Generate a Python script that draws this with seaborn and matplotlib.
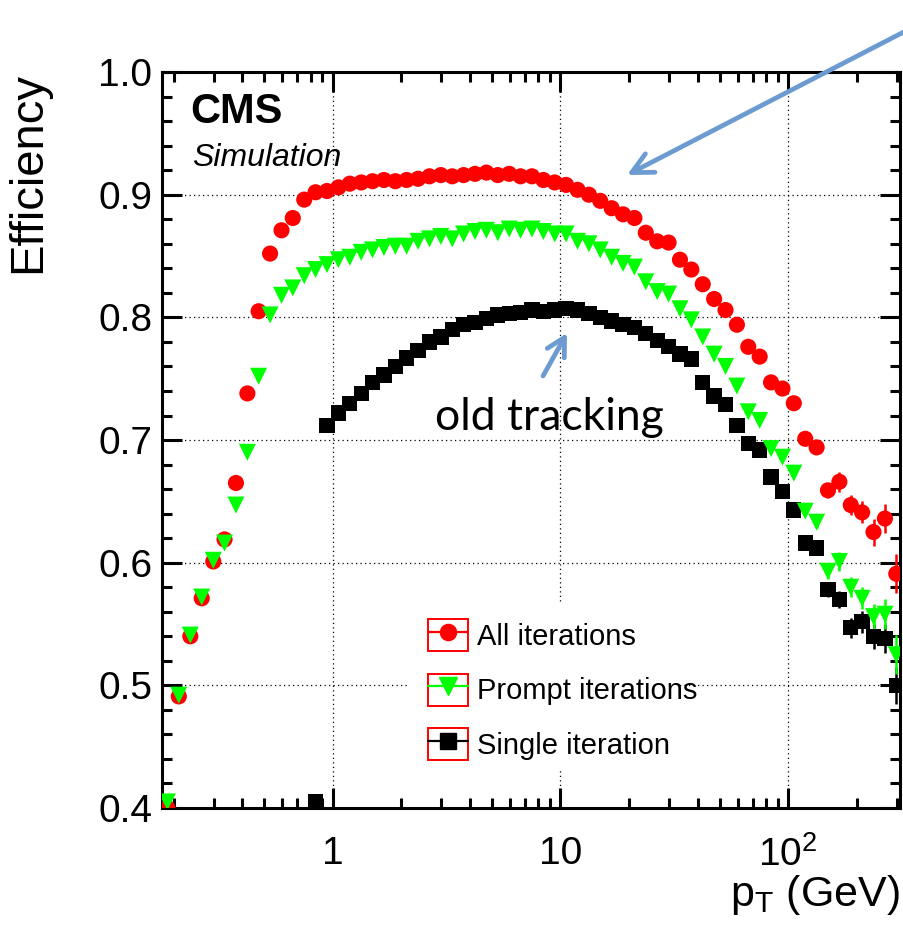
import numpy as np
import pandas as pd
import matplotlib
matplotlib.use("Agg")
import matplotlib.pyplot as plt
import seaborn as sns
from matplotlib.lines import Line2D
from matplotlib.patches import Rectangle
from matplotlib.legend_handler import HandlerLine2D
from matplotlib.ticker import LogLocator, NullFormatter, MultipleLocator

# %% data: tracking efficiency vs pT (20 log bins per decade)
pt_bins = [0.188, 0.211, 0.237, 0.266, 0.299, 0.335, 0.376, 0.422, 0.473, 0.531,
           0.596, 0.668, 0.750, 0.841, 0.944, 1.059, 1.189, 1.334, 1.496, 1.679,
           1.884, 2.113, 2.371, 2.661, 2.985, 3.350, 3.758, 4.217, 4.732, 5.309,
           5.957, 6.683, 7.499, 8.414, 9.441, 10.59, 11.89, 13.34, 14.96, 16.79,
           18.84, 21.13, 23.71, 26.61, 29.85, 33.50, 37.58, 42.17, 47.32, 53.09,
           59.57, 66.83, 74.99, 84.14, 94.41, 105.9, 118.9, 133.4, 149.6, 167.9,
           188.4, 211.3, 237.1, 266.1, 298.5]

eff_all = [0.400, 0.491, 0.540, 0.571, 0.601, 0.619, 0.665, 0.738, 0.805, 0.852,
           0.871, 0.881, 0.896, 0.902, 0.903, 0.906, 0.909, 0.910, 0.911, 0.912,
           0.911, 0.912, 0.913, 0.915, 0.916, 0.915, 0.916, 0.917, 0.918, 0.916,
           0.917, 0.915, 0.915, 0.912, 0.910, 0.908, 0.904, 0.900, 0.895, 0.889,
           0.884, 0.881, 0.869, 0.862, 0.861, 0.847, 0.839, 0.827, 0.815, 0.806,
           0.794, 0.776, 0.768, 0.747, 0.742, 0.730, 0.701, 0.694, 0.659, 0.666,
           0.647, 0.641, 0.625, 0.636, 0.591]

eff_prompt = [0.405, 0.492, 0.541, 0.572, 0.602, 0.616, 0.647, 0.690, 0.752, 0.802,
              0.818, 0.824, 0.834, 0.839, 0.843, 0.847, 0.849, 0.853, 0.855, 0.857,
              0.858, 0.858, 0.862, 0.864, 0.866, 0.864, 0.868, 0.870, 0.871, 0.869,
              0.872, 0.871, 0.872, 0.870, 0.868, 0.868, 0.862, 0.860, 0.855, 0.849,
              0.844, 0.841, 0.829, 0.821, 0.819, 0.807, 0.798, 0.784, 0.770, 0.760,
              0.744, 0.723, 0.716, 0.693, 0.686, 0.673, 0.642, 0.633, 0.593, 0.601,
              0.580, 0.571, 0.556, 0.558, 0.525]

eff_single = [np.nan] * 13 + [
              0.405, 0.712, 0.722, 0.730, 0.738, 0.747, 0.753,
              0.760, 0.767, 0.773, 0.780, 0.784, 0.790, 0.794, 0.796, 0.799, 0.802,
              0.803, 0.804, 0.806, 0.805, 0.806, 0.807, 0.806, 0.803, 0.800, 0.797,
              0.794, 0.792, 0.787, 0.781, 0.776, 0.770, 0.766, 0.747, 0.736, 0.729,
              0.712, 0.697, 0.692, 0.670, 0.658, 0.643, 0.616, 0.612, 0.578, 0.570,
              0.547, 0.552, 0.540, 0.538, 0.500]

# statistical errors only visible in the high-pT tail
tail_start = 56
err_all = [0.004, 0.005, 0.006, 0.008, 0.008, 0.009, 0.011, 0.012, 0.016]
err_prompt = [0.004, 0.005, 0.006, 0.008, 0.008, 0.009, 0.010, 0.012, 0.016]
err_single = [0.004, 0.005, 0.006, 0.007, 0.008, 0.009, 0.010, 0.012, 0.015]

series_names = ["All iterations", "Prompt iterations", "Single iteration"]
series_colors = {"All iterations": "#ff0000", "Prompt iterations": "#00ff00", "Single iteration": "#000000"}
series_markers = {"All iterations": "o", "Prompt iterations": "v", "Single iteration": "s"}
series_sizes = {"All iterations": 135, "Prompt iterations": 150, "Single iteration": 122}

# long format; draw order red -> black -> green (green ends up on top)
df = pd.concat([
    pd.DataFrame({"pt": pt_bins, "eff": eff_all, "series": "All iterations"}),
    pd.DataFrame({"pt": pt_bins, "eff": eff_single, "series": "Single iteration"}),
    pd.DataFrame({"pt": pt_bins, "eff": eff_prompt, "series": "Prompt iterations"}),
], ignore_index=True).dropna()

# %% style
sns.set_style("ticks")
plt.rcParams.update({
    "font.family": ["Liberation Sans", "DejaVu Sans"],
    "mathtext.fontset": "custom",
    "mathtext.rm": "Liberation Sans",
    "mathtext.it": "Liberation Sans:italic",
    "mathtext.bf": "Liberation Sans:bold",
    "text.color": "black",
    "axes.labelcolor": "black",
    "xtick.color": "black",
    "ytick.color": "black",
    "axes.edgecolor": "black",
})


class BoxedHandler(HandlerLine2D):
    # ROOT-style legend entry: line + marker inside a red box
    def create_artists(self, legend, orig_handle, xdescent, ydescent, width, height, fontsize, trans):
        arts = super().create_artists(legend, orig_handle, xdescent, ydescent, width, height, fontsize, trans)
        box = Rectangle((-xdescent, -ydescent), width, height, fill=False,
                        edgecolor="red", linewidth=1.4, transform=trans)
        return [box] + list(arts)


fig = plt.figure(figsize=(9.04, 9.26), dpi=100)
ax = fig.add_axes([0.1792, 0.1274, 0.8164, 0.7948])
ax.set_xscale("log")

sns.scatterplot(data=df, x="pt", y="eff", hue="series", style="series", size="series",
                palette=series_colors, markers=series_markers, sizes=series_sizes,
                linewidth=0, legend=False, ax=ax, zorder=3)

for vals, errs, name in [(eff_all, err_all, "All iterations"),
                         (eff_single, err_single, "Single iteration"),
                         (eff_prompt, err_prompt, "Prompt iterations")]:
    ax.errorbar(pt_bins[tail_start:], vals[tail_start:], yerr=errs, fmt="none",
                ecolor=series_colors[name], elinewidth=1.8, capsize=0, zorder=2.5)

ax.set_xlim(0.178, 310)
ax.set_ylim(0.4, 1.0)

# ticks
ax.set_xticks([1, 10, 100], labels=["1", "10", r"$10^{2}$"])
ax.xaxis.set_minor_locator(LogLocator(base=10, subs=(2, 3, 4, 5, 6, 7, 8, 9), numticks=20))
ax.xaxis.set_minor_formatter(NullFormatter())
ax.set_yticks([0.4, 0.5, 0.6, 0.7, 0.8, 0.9, 1.0],
              labels=["0.4", "0.5", "0.6", "0.7", "0.8", "0.9", "1.0"])
ax.yaxis.set_minor_locator(MultipleLocator(0.02))

ax.tick_params(which="both", direction="in", top=True, right=True, width=2.2, color="black")
ax.tick_params(which="major", length=14.5, labelsize=28, labelcolor="black")
ax.tick_params(which="minor", length=7.2)
ax.tick_params(axis="x", which="major", pad=20)
ax.tick_params(axis="y", which="major", pad=7)

for sp in ax.spines.values():
    sp.set_visible(True)
    sp.set_linewidth(2.2)
    sp.set_color("black")

ax.set_axisbelow(True)
ax.grid(True, which="major", color="black", linestyle=(0, (1, 2.6)), linewidth=0.9)

# labels
ax.set_ylabel("Efficiency", fontsize=34, loc="top", color="black")
ax.yaxis.set_label_coords(-0.152, 1.0)
ax.set_xlabel(r"p$_{\mathrm{T}}$ (GeV)", fontsize=31, loc="right", color="black")
ax.xaxis.set_label_coords(1.0, -0.088)

ax.text(0.038, 0.9307, "CMS", transform=ax.transAxes, fontsize=30, fontweight="bold",
        va="baseline", color="black")
ax.text(0.041, 0.872, "Simulation", transform=ax.transAxes, fontsize=23, style="italic",
        va="baseline", color="black")

# white pad behind the legend (hides grid like ROOT's TLegend fill)
ax.add_patch(Rectangle((0.336, 0.0516), 0.366, 0.227, transform=ax.transAxes,
                       facecolor="white", edgecolor="none", zorder=0.8))

handles = [Line2D([], [], color=series_colors[n], marker=series_markers[n],
                  markersize=np.sqrt(series_sizes[n]), linewidth=1.6, label=n)
           for n in series_names]
leg = ax.legend(handles=handles, loc="upper left", bbox_to_anchor=(0.3604, 0.257), frameon=False,
                fontsize=21, handlelength=1.38, handleheight=1.31, handletextpad=0.3,
                labelspacing=0.78, borderpad=0, borderaxespad=0,
                handler_map={Line2D: BoxedHandler(numpoints=1)})
for t in leg.get_texts():
    t.set_color("black")

# slide annotations
arrow_blue = "#6b9bd0"
ax.annotate("", xy=(627 / 904, 1 - 175 / 926), xytext=(925 / 904, 1 - 21 / 926),
            xycoords="figure fraction", textcoords="figure fraction", annotation_clip=False,
            arrowprops=dict(arrowstyle="->,head_length=1.5,head_width=0.75", color=arrow_blue,
                            lw=3.4, shrinkA=0, shrinkB=0, mutation_scale=10))
ax.annotate("", xy=(567 / 904, 1 - 333 / 926), xytext=(543 / 904, 1 - 376 / 926),
            xycoords="figure fraction", textcoords="figure fraction", annotation_clip=False,
            arrowprops=dict(arrowstyle="->,head_length=1.3,head_width=0.7", color=arrow_blue,
                            lw=3.4, shrinkA=0, shrinkB=0, mutation_scale=10))
ax.text(0.370, 0.5136, "old tracking", transform=ax.transAxes, fontsize=32,
        family=["Lato", "DejaVu Sans"], va="baseline", color="black")

fig.savefig("out.png", dpi=100)
